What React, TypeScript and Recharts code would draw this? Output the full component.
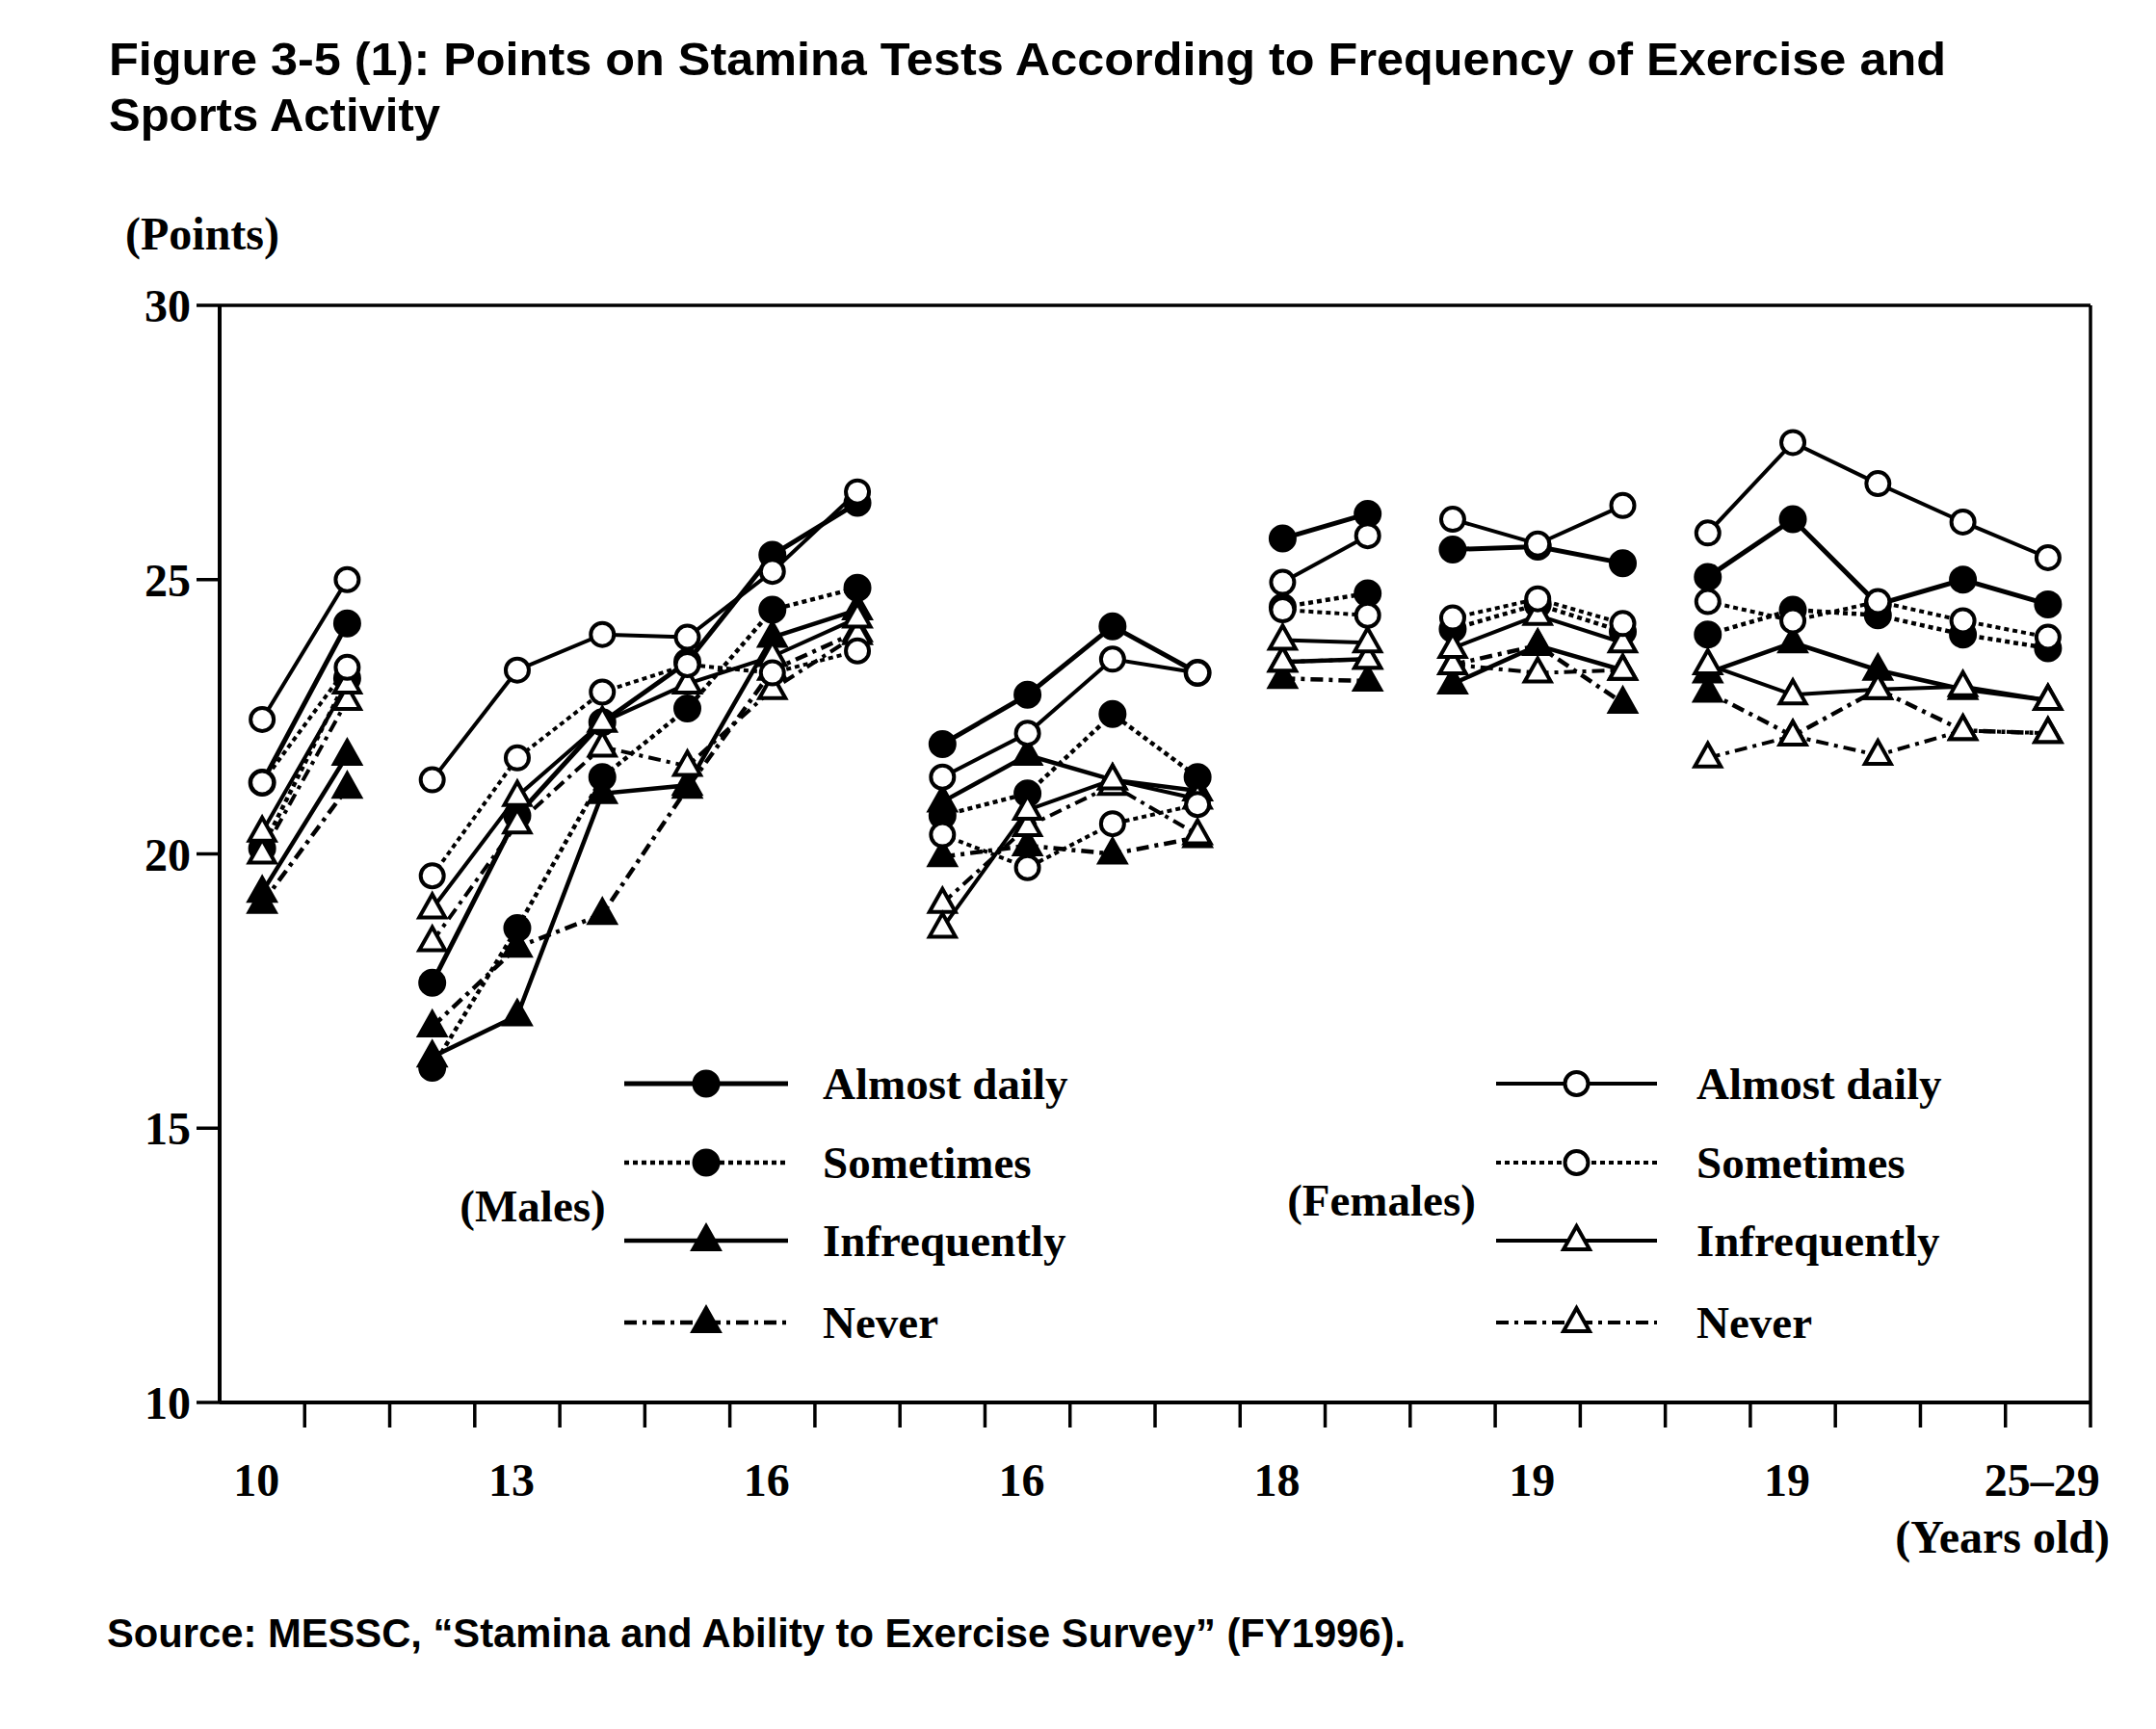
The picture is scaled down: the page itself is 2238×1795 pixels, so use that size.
import React from 'react';
import { LineChart, Line, XAxis, YAxis, ReferenceLine } from 'recharts';

// x positions 0..21 are the survey categories; groups are split by breaks
const GROUP_BREAKS = [1.5, 7.5, 11.5, 13.5, 16.5];
const LABEL_POS = [0, 3, 6, 9, 12, 15, 18, 21];
const LABEL_TEXT = ['10', '13', '16', '16', '18', '19', '19', '25–29'];
const Y_TICKS = [10, 15, 20, 25, 30];

// Males (filled markers)
const M_DAILY = [21.3, 24.2, 17.65, 20.7, 22.4, 23.5, 25.45, 26.4, 22.0, 22.9, 24.15, 23.3, 25.75, 26.2, 25.55, 25.6, 25.3, 25.05, 26.1, 24.55, 25.0, 24.55];
const M_SOMETIMES = [20.1, 23.2, 16.1, 18.65, 21.4, 22.65, 24.45, 24.85, 20.7, 21.1, 22.55, 21.4, 24.5, 24.75, 24.1, 24.55, 24.05, 24.0, 24.45, 24.35, 24.0, 23.75];
const M_INFREQ = [19.3, 21.8, 16.3, 17.05, 21.1, 21.25, 23.95, 24.45, 20.95, 21.8, 21.35, 21.15, 23.5, 23.55, 23.1, 23.8, 23.35, 23.3, 23.85, 23.35, 23.0, 22.8];
const M_NEVER = [19.1, 21.2, 16.85, 18.3, 18.9, 21.2, 23.35, 24.05, 19.95, 20.15, 20.0, 20.3, 23.2, 23.15, 23.45, 23.8, 22.75, 22.95, 22.15, 23.0, 22.25, 22.2];

// Females (open markers)
const F_DAILY = [22.45, 25.0, 21.35, 23.35, 24.0, 23.95, 25.15, 26.6, 21.4, 22.2, 23.55, 23.3, 24.95, 25.8, 26.1, 25.65, 26.35, 25.85, 27.5, 26.75, 26.05, 25.4];
const F_SOMETIMES = [21.3, 23.4, 19.6, 21.75, 22.95, 23.45, 23.3, 23.7, 20.35, 19.75, 20.55, 20.9, 24.45, 24.35, 24.3, 24.65, 24.2, 24.6, 24.25, 24.6, 24.25, 23.95];
const F_INFREQ = [20.4, 23.1, 19.0, 21.05, 22.4, 23.1, 23.6, 24.3, 18.65, 20.8, 21.35, 21.0, 23.9, 23.85, 23.75, 24.35, 23.85, 23.45, 22.9, 23.0, 23.05, 22.8];
const F_NEVER = [20.0, 22.8, 18.4, 20.55, 21.95, 21.6, 23.0, 24.0, 19.1, 20.5, 21.25, 20.35, 23.5, 23.55, 23.45, 23.3, 23.35, 21.75, 22.15, 21.8, 22.25, 22.2];

const SERIF = "'Liberation Serif', 'Times New Roman', serif";
const SANS = "'Liberation Sans', Arial, sans-serif";

const SOLID = undefined;
const DOTTED = '5 4';
const DASHDOT = '13 6 4 6';

type Marker = 'circle' | 'triangle';

const SERIES: { key: string; label: string; values: number[]; dash?: string; marker: Marker; filled: boolean; width: number }[] = [
  { key: 'mNever', label: 'Never', values: M_NEVER, dash: DASHDOT, marker: 'triangle', filled: true, width: 4.5 },
  { key: 'mInfreq', label: 'Infrequently', values: M_INFREQ, dash: SOLID, marker: 'triangle', filled: true, width: 4.5 },
  { key: 'mSometimes', label: 'Sometimes', values: M_SOMETIMES, dash: DOTTED, marker: 'circle', filled: true, width: 4.5 },
  { key: 'mDaily', label: 'Almost daily', values: M_DAILY, dash: SOLID, marker: 'circle', filled: true, width: 5 },
  { key: 'fNever', label: 'Never', values: F_NEVER, dash: DASHDOT, marker: 'triangle', filled: false, width: 4 },
  { key: 'fInfreq', label: 'Infrequently', values: F_INFREQ, dash: SOLID, marker: 'triangle', filled: false, width: 4 },
  { key: 'fSometimes', label: 'Sometimes', values: F_SOMETIMES, dash: DOTTED, marker: 'circle', filled: false, width: 4 },
  { key: 'fDaily', label: 'Almost daily', values: F_DAILY, dash: SOLID, marker: 'circle', filled: false, width: 4 },
];

const LEGEND_ORDER = ['Daily', 'Sometimes', 'Infreq', 'Never'];
const LEGEND_ROWS_Y = [1125, 1207, 1288, 1373];

function buildRows() {
  const rows: Record<string, number | null>[] = [];
  for (let i = 0; i < M_DAILY.length; i++) {
    const row: Record<string, number | null> = { x: i };
    SERIES.forEach(s => { row[s.key] = s.values[i]; });
    rows.push(row);
    if (GROUP_BREAKS.includes(i + 0.5)) {
      const gap: Record<string, number | null> = { x: i + 0.5 };
      SERIES.forEach(s => { gap[s.key] = null; });
      rows.push(gap);
    }
  }
  return rows;
}

function MarkerShape({ cx, cy, marker, filled }: { cx: number; cy: number; marker: Marker; filled: boolean }) {
  const fill = filled ? '#000' : '#fff';
  if (marker === 'circle') {
    return <circle cx={cx} cy={cy} r={filled ? 12.5 : 12} fill={fill} stroke="#000" strokeWidth={4} />;
  }
  const pts = `${cx},${cy - 15} ${cx - 13.5},${cy + 9} ${cx + 13.5},${cy + 9}`;
  return <polygon points={pts} fill={fill} stroke="#000" strokeWidth={4} strokeLinejoin="miter" />;
}

function makeDot(marker: Marker, filled: boolean) {
  return (props: any) => {
    const { cx, cy, index, value } = props;
    if (value == null || !Number.isFinite(cx) || !Number.isFinite(cy)) return <g key={`d-${index}`} />;
    return <MarkerShape key={`d-${index}`} cx={cx} cy={cy} marker={marker} filled={filled} />;
  };
}

function XTick(props: any) {
  const { x, y, payload } = props;
  const li = LABEL_POS.indexOf(payload.value);
  if (li >= 0) {
    return (
      <text x={x - 6} y={y + 97} textAnchor="middle" fontFamily={SERIF} fontSize={48} fontWeight="bold" fill="#000">
        {LABEL_TEXT[li]}
      </text>
    );
  }
  return <line x1={x} y1={y} x2={x} y2={y + 26} stroke="#000" strokeWidth={3.5} />;
}

function LegendBlock({ prefix, lineX0, lineX1, textX }: { prefix: string; lineX0: number; lineX1: number; textX: number }) {
  return (
    <g>
      {LEGEND_ORDER.map((k, i) => {
        const s = SERIES.find(d => d.key === prefix + k)!;
        const y = LEGEND_ROWS_Y[i];
        const mx = (lineX0 + lineX1) / 2;
        return (
          <g key={s.key}>
            <line x1={lineX0} y1={y} x2={lineX1} y2={y} stroke="#000" strokeWidth={s.width} strokeDasharray={s.dash} />
            <MarkerShape cx={mx} cy={y} marker={s.marker} filled={s.filled} />
            <text x={textX} y={y + 16} fontFamily={SERIF} fontSize={47} fontWeight="bold" fill="#000">{s.label}</text>
          </g>
        );
      })}
    </g>
  );
}

export default function App() {
  const data = buildRows();
  const xTicks = [...LABEL_POS, ...Array.from({ length: 22 }, (_, i) => i + 0.5)].sort((a, b) => a - b);

  return (
    <div style={{ position: 'absolute', left: 0, top: 0, width: 2238, height: 1795, background: '#fff' }}>
      <LineChart
        width={2238}
        height={1795}
        data={data}
        margin={{ top: 317, right: 68, bottom: 219, left: 98 }}
      >
        <XAxis
          dataKey="x"
          type="number"
          domain={[-0.5, 21.5]}
          ticks={xTicks}
          interval={0}
          tick={<XTick />}
          tickLine={false}
          tickSize={0}
          tickMargin={0}
          height={120}
          axisLine={{ stroke: '#000', strokeWidth: 4 }}
        />
        <YAxis
          type="number"
          domain={[10, 30]}
          ticks={Y_TICKS}
          interval={0}
          width={130}
          tickSize={24}
          tickMargin={6}
          tickLine={{ stroke: '#000', strokeWidth: 3.5 }}
          axisLine={{ stroke: '#000', strokeWidth: 4 }}
          tick={{ fontFamily: SERIF, fontSize: 48, fontWeight: 'bold', fill: '#000' }}
        />
        <ReferenceLine y={30} stroke="#000" strokeWidth={3.5} />
        <ReferenceLine x={21.5} stroke="#000" strokeWidth={3.5} />
        {SERIES.map(s => (
          <Line
            key={s.key}
            dataKey={s.key}
            type="linear"
            stroke="#000"
            strokeWidth={s.width}
            strokeDasharray={s.dash}
            connectNulls={false}
            dot={makeDot(s.marker, s.filled)}
            activeDot={false}
            isAnimationActive={false}
          />
        ))}
      </LineChart>

      <svg width={2238} height={1795} style={{ position: 'absolute', left: 0, top: 0, pointerEvents: 'none' }}>
        <text x={113} y={78} fontFamily={SANS} fontSize={49} fontWeight="bold" fill="#000" textLength={1907} lengthAdjust="spacingAndGlyphs">
          Figure 3-5 (1): Points on Stamina Tests According to Frequency of Exercise and
        </text>
        <text x={113} y={136} fontFamily={SANS} fontSize={49} fontWeight="bold" fill="#000">
          Sports Activity
        </text>
        <text x={130} y={259} fontFamily={SERIF} fontSize={48} fontWeight="bold" fill="#000">(Points)</text>
        <text x={2190} y={1612} textAnchor="end" fontFamily={SERIF} fontSize={48} fontWeight="bold" fill="#000">(Years old)</text>

        <text x={553} y={1268} textAnchor="middle" fontFamily={SERIF} fontSize={47} fontWeight="bold" fill="#000">(Males)</text>
        <text x={1434} y={1262} textAnchor="middle" fontFamily={SERIF} fontSize={47} fontWeight="bold" fill="#000">(Females)</text>
        <LegendBlock prefix="m" lineX0={648} lineX1={818} textX={854} />
        <LegendBlock prefix="f" lineX0={1553} lineX1={1720} textX={1761} />

        <text x={111} y={1710} fontFamily={SANS} fontSize={43} fontWeight="bold" fill="#000" textLength={1348} lengthAdjust="spacingAndGlyphs">
          Source: MESSC, “Stamina and Ability to Exercise Survey” (FY1996).
        </text>
      </svg>
    </div>
  );
}
